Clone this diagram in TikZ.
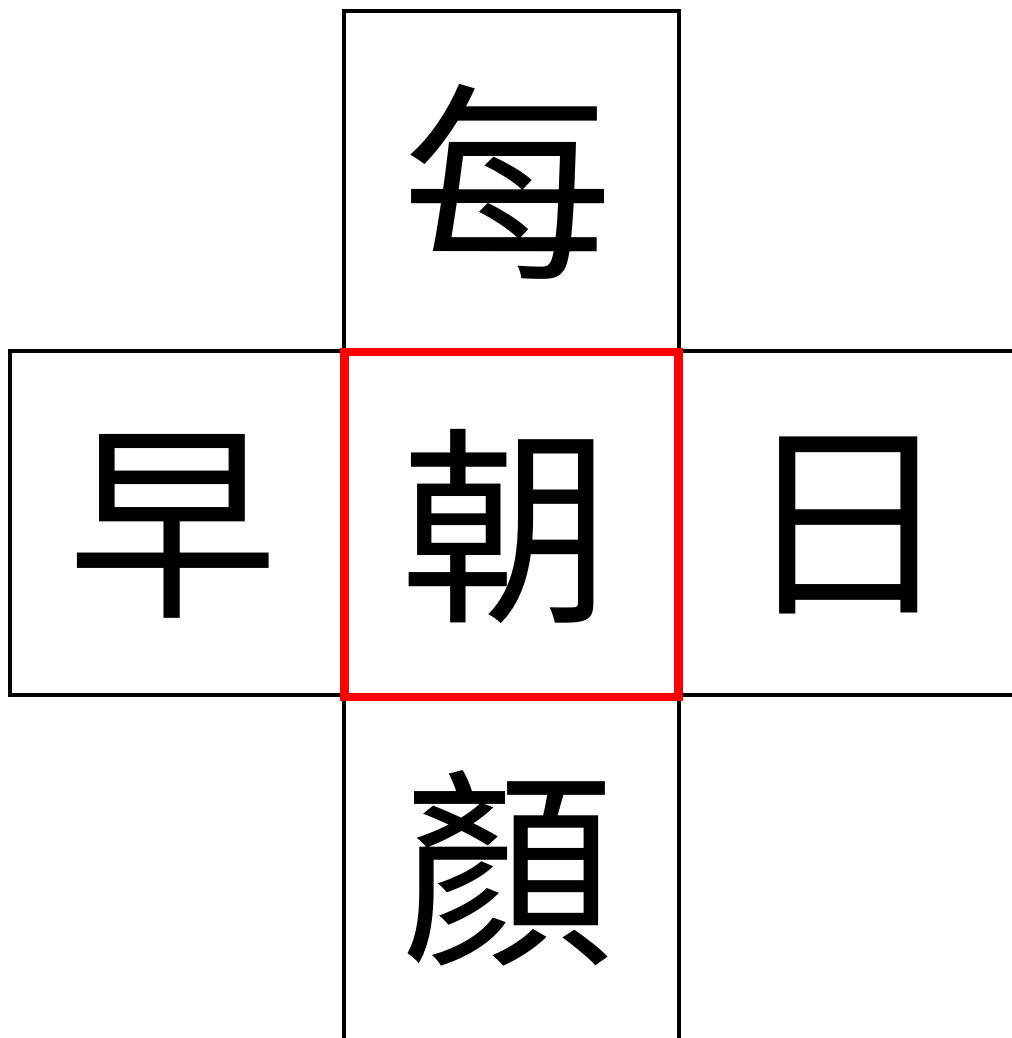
\documentclass[tikz,border=0pt]{standalone}
\usepackage{fontspec}
\newfontfamily\cjk{Noto Sans CJK TC}
\begin{document}
\begin{tikzpicture}[x=0.75pt,y=-0.75pt,
  gridline/.style={draw=black,line width=2.7pt,line cap=rect},
  focus/.style={draw=red,line width=6.4pt},
  glyph/.style={font=\cjk\fontsize{158}{158}\selectfont,inner sep=0pt,anchor=center}]
\useasboundingbox (0,0) rectangle (1011,1038);
% grid coordinates
\coordinate (tl) at (344,11);
\coordinate (tr) at (679,11);
\coordinate (bl) at (344,1038);
\coordinate (br) at (679,1038);
\coordinate (ml1) at (10,351);
\coordinate (mr1) at (1011,351);
\coordinate (ml2) at (10,695);
\coordinate (mr2) at (1011,695);
% lines
\draw[gridline] (tl) -- (tr);
\draw[gridline] (tl) -- (bl);
\draw[gridline] (tr) -- (br);
\draw[gridline] (ml1) -- (mr1);
\draw[gridline] (ml2) -- (mr2);
\draw[gridline] (ml1) -- (ml2);
% centre
\draw[focus] (344.5,352) rectangle (678.5,697);
% characters
\node[glyph] (top) at (508,182) {每};
\node[glyph] (left) at (173,526) {早};
\node[glyph] (mid) at (506,527) {朝};
\node[glyph] (right) at (848,525) {日};
\node[glyph] (bottom) at (508,868) {顏};
\end{tikzpicture}
\end{document}
